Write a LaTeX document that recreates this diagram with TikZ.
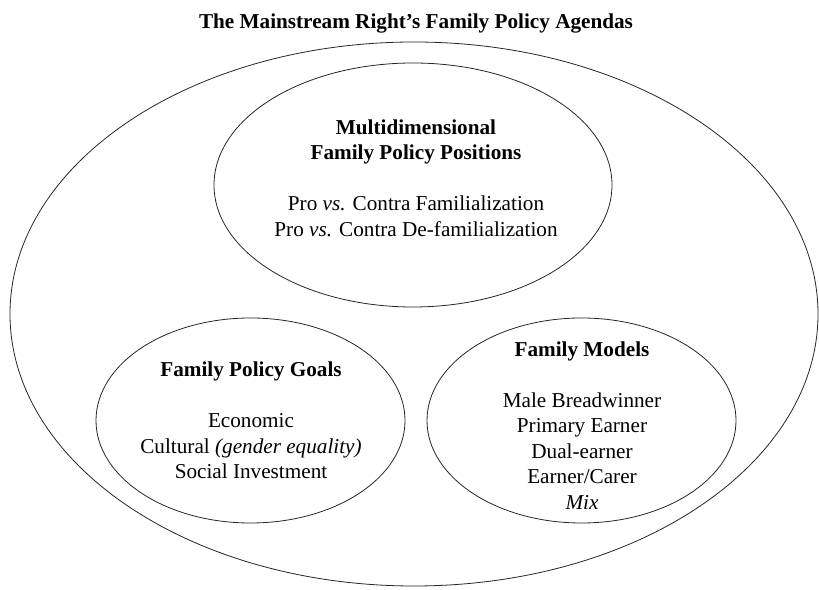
\documentclass[tikz,border=0pt]{standalone}
\usepackage{fontspec}
\setmainfont{Liberation Serif}
\usetikzlibrary{shapes.geometric}

\begin{document}
\begin{tikzpicture}[
  x=1pt, y=1pt,
  font=\fontsize{21.2}{25.5}\selectfont,
  ring/.style={draw=black!85, line width=0.8pt, ellipse, inner sep=0pt},
  words/.style={align=center, inner sep=0pt}
]
\useasboundingbox (0,0) rectangle (819,589);
% the outer frame and the three inner blobs
\node[ring, minimum width=808pt, minimum height=544pt] (agenda) at (414,275) {};
\node[ring, minimum width=398pt, minimum height=244pt] (positions) at (413,404) {};
\node[ring, minimum width=309pt, minimum height=205pt] (goals) at (250.5,168.5) {};
\node[ring, minimum width=309pt, minimum height=205pt] (models) at (581.5,168.5) {};

\node[words, anchor=base] (title) at (416,560) {\textbf{The Mainstream Right’s Family Policy Agendas}};
\node[words] (positionstext) at ([shift={(3,7)}]positions.center)
  {\textbf{Multidimensional}\\\textbf{Family Policy Positions}\\[25.5pt]
   Pro \textit{vs.} Contra Familialization\\Pro \textit{vs.} Contra De-familialization};
\node[words] (goalstext) at ([shift={(0.5,0)}]goals.center)
  {\textbf{Family Policy Goals}\\[25.5pt]
   Economic\\Cultural \textit{(gender equality)}\\Social Investment};
\node[words] (modelstext) at ([shift={(0.5,-5)}]models.center)
  {\textbf{Family Models}\\[25.5pt]
   Male Breadwinner\\Primary Earner\\Dual-earner\\Earner/Carer\\\textit{Mix}};
\end{tikzpicture}
\end{document}
